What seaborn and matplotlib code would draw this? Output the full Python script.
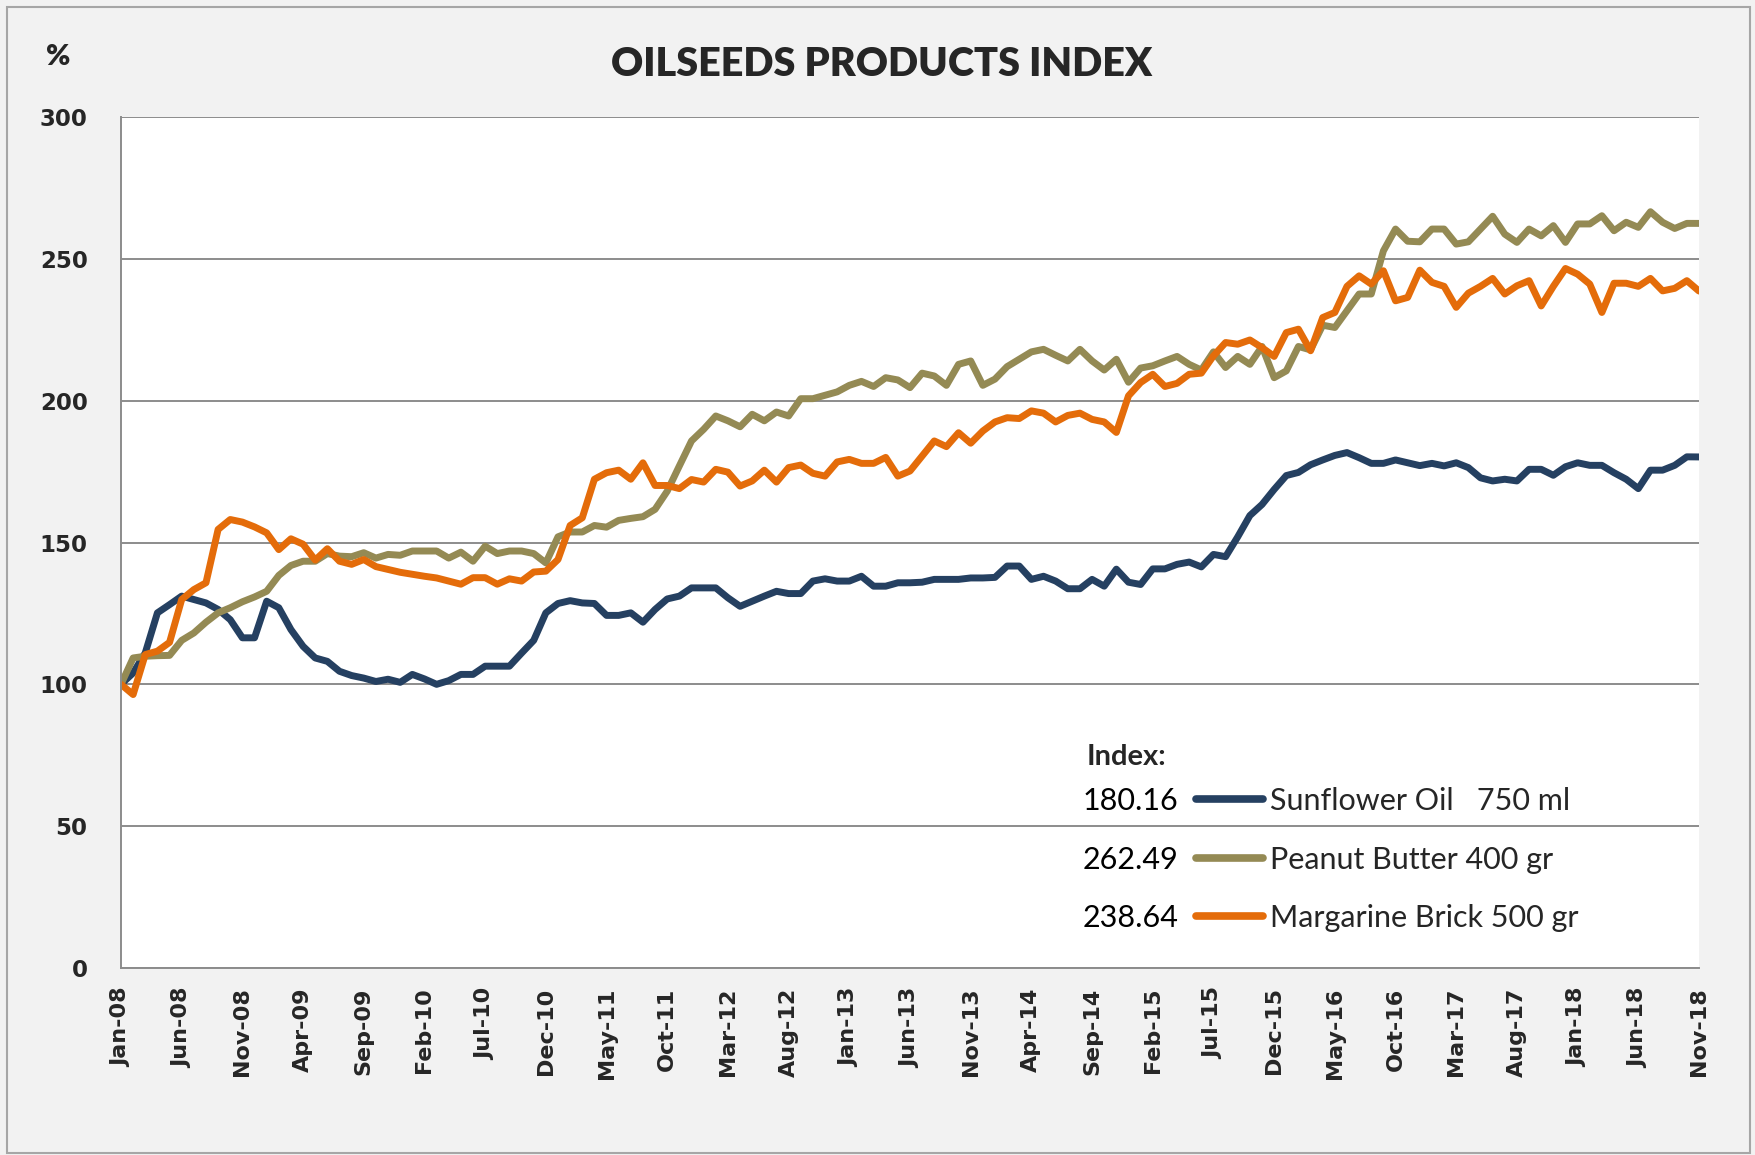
import numpy as np
import pandas as pd
import matplotlib.pyplot as plt
import seaborn as sns
from matplotlib.patches import Rectangle

# ── Data (monthly index, Jan-08 = 100) ─────────────────────────────────────────
SUNFLOWER = [
    100.0, 104.0, 111.1, 125.2, 128.1, 131.1, 129.9, 128.7, 126.4, 122.8,
    116.4, 116.4, 129.3, 127.0, 119.3, 113.4, 109.3, 108.1, 104.6, 103.1,
    102.2, 101.0, 101.8, 100.7, 103.5, 101.9, 100.0, 101.3, 103.5, 103.5,
    106.4, 106.4, 106.4, 111.0, 115.5, 125.2, 128.5, 129.5, 128.7, 128.5,
    124.3, 124.3, 125.2, 121.9, 126.4, 130.1, 131.1, 134.0, 134.0, 134.0,
    130.5, 127.5, 129.3, 131.1, 132.8, 132.0, 132.0, 136.4, 137.2, 136.4,
    136.4, 138.1, 134.6, 134.6, 135.8, 135.8, 136.0, 137.0, 137.0, 137.0,
    137.5, 137.5, 137.7, 141.7, 141.7, 137.0, 138.1, 136.4, 133.7, 133.7,
    137.0, 134.6, 140.6, 136.0, 135.2, 140.7, 140.7, 142.3, 143.1, 141.4,
    145.8, 145.0, 152.0, 159.5, 163.4, 168.7, 173.6, 174.7, 177.4, 179.1,
    180.7, 181.7, 179.9, 177.9, 177.9, 179.1, 178.1, 177.1, 177.9, 177.0,
    178.1, 176.4, 172.8, 171.7, 172.3, 171.7, 175.8, 175.8, 173.7, 176.7,
    178.1, 177.2, 177.2, 174.6, 172.3, 169.0, 175.5, 175.5, 177.2, 180.2,
    180.16,
]
PEANUT = [
    100.0, 109.3, 109.9, 110.1, 110.2, 115.5, 118.1, 121.9, 125.2, 127.0,
    129.1, 130.8, 132.8, 138.4, 141.9, 143.4, 143.4, 146.1, 145.2, 145.0,
    146.4, 144.5, 145.8, 145.5, 147.0, 147.0, 147.0, 144.5, 146.6, 143.4,
    148.7, 146.1, 147.0, 147.0, 146.1, 142.8, 152.0, 153.7, 153.7, 156.0,
    155.4, 157.8, 158.5, 159.1, 161.7, 168.1, 177.0, 185.8, 189.9, 194.6,
    192.9, 190.8, 195.2, 192.9, 196.0, 194.6, 200.7, 200.7, 201.9, 203.1,
    205.4, 206.8, 205.0, 208.1, 207.3, 204.6, 209.7, 208.7, 205.4, 212.8,
    214.0, 205.4, 207.6, 212.0, 214.6, 217.2, 218.1, 216.0, 214.0, 218.1,
    214.0, 210.8, 214.6, 206.5, 211.5, 212.3, 214.0, 215.6, 212.8, 210.8,
    217.2, 211.7, 215.6, 212.8, 219.1, 208.1, 210.5, 219.1, 217.9, 226.6,
    225.8, 231.7, 237.6, 237.6, 252.8, 260.5, 256.2, 256.0, 260.5, 260.5,
    255.2, 256.0, 260.5, 265.0, 258.7, 255.8, 260.5, 258.1, 261.7, 255.8,
    262.3, 262.3, 265.2, 259.9, 262.9, 261.1, 266.6, 262.9, 260.7, 262.5,
    262.49,
]
MARGARINE = [
    100.0, 96.4, 110.5, 111.7, 114.8, 129.9, 133.4, 135.8, 154.6, 158.1,
    157.2, 155.5, 153.4, 147.5, 151.3, 149.4, 143.8, 147.8, 143.4, 142.3,
    144.0, 141.5, 140.5, 139.5, 138.8, 138.1, 137.5, 136.4, 135.3, 137.6,
    137.6, 135.3, 137.2, 136.4, 139.6, 139.9, 144.0, 156.0, 158.7, 172.3,
    174.6, 175.5, 172.3, 178.1, 170.1, 170.1, 169.0, 172.2, 171.3, 175.8,
    174.8, 169.9, 171.7, 175.5, 171.3, 176.4, 177.3, 174.4, 173.4, 178.4,
    179.3, 177.9, 177.9, 180.0, 173.4, 175.2, 180.5, 185.8, 183.8, 188.7,
    185.0, 189.3, 192.5, 194.0, 193.7, 196.4, 195.6, 192.5, 194.8, 195.6,
    193.4, 192.5, 188.8, 201.7, 206.4, 209.3, 205.0, 206.1, 209.3, 209.7,
    215.8, 220.5, 219.9, 221.4, 218.7, 215.6, 224.0, 225.2, 217.6, 229.3,
    231.1, 240.3, 244.0, 241.1, 245.8, 235.2, 236.4, 246.0, 241.7, 240.3,
    232.9, 237.9, 240.3, 243.1, 237.6, 240.5, 242.3, 233.4, 240.3, 246.6,
    244.6, 241.1, 231.1, 241.4, 241.4, 240.3, 243.1, 238.7, 239.6, 242.3,
    238.64,
]

SERIES_NAMES = ["Sunflower Oil   750 ml", "Peanut Butter 400 gr", "Margarine Brick 500 gr"]
SERIES_COLORS = ["#254061", "#948a54", "#e46c0a"]

TICK_LABELS = [
    "Jan-08", "Jun-08", "Nov-08", "Apr-09", "Sep-09", "Feb-10", "Jul-10",
    "Dec-10", "May-11", "Oct-11", "Mar-12", "Aug-12", "Jan-13", "Jun-13",
    "Nov-13", "Apr-14", "Sep-14", "Feb-15", "Jul-15", "Dec-15", "May-16",
    "Oct-16", "Mar-17", "Aug-17", "Jan-18", "Jun-18", "Nov-18",
]
Y_TICKS = [0, 50, 100, 150, 200, 250, 300]

W, H = 1756, 1155
GRID = "#8c8c8c"

# ── Long-form frame ────────────────────────────────────────────────────────────
months = np.arange(len(SUNFLOWER))
df = pd.concat(
    [
        pd.DataFrame({"month": months, "value": vals, "series": name})
        for name, vals in zip(SERIES_NAMES, [SUNFLOWER, PEANUT, MARGARINE])
    ],
    ignore_index=True,
)

sns.set_theme(style="white")
plt.rcParams["font.family"] = ["DejaVu Sans"]

fig = plt.figure(figsize=(W / 100, H / 100), dpi=100, facecolor="#f2f2f2")
ax = fig.add_axes([121 / W, 1 - 968 / H, (1699 - 121) / W, (968 - 117) / H])
ax.set_facecolor("white")

sns.lineplot(
    data=df, x="month", y="value", hue="series",
    hue_order=SERIES_NAMES, palette=dict(zip(SERIES_NAMES, SERIES_COLORS)),
    linewidth=5, legend=False, ax=ax,
)
for ln in ax.get_lines():
    ln.set_solid_joinstyle("round")
    ln.set_solid_capstyle("round")

# ── Axes styling ───────────────────────────────────────────────────────────────
ax.set_xlim(0, len(SUNFLOWER) - 1)
ax.set_ylim(0, 300)
ax.set_yticks(Y_TICKS)
ax.set_yticklabels([str(v) for v in Y_TICKS], fontweight="bold", fontsize=16.5)
ax.set_xticks(np.arange(0, len(SUNFLOWER), 5))
ax.set_xticklabels(TICK_LABELS, rotation=90, fontweight="bold", fontsize=16)
ax.tick_params(axis="y", length=0, pad=24)
ax.tick_params(axis="x", length=0, pad=14)
ax.set_xlabel("")
ax.set_ylabel("")
ax.yaxis.grid(True, color=GRID, linewidth=1.4)
ax.xaxis.grid(False)
for side in ["top", "right"]:
    ax.spines[side].set_visible(False)
for side in ["left", "bottom"]:
    ax.spines[side].set_color(GRID)
    ax.spines[side].set_linewidth(1.4)

# ── Texts ──────────────────────────────────────────────────────────────────────
fig.text(882 / W, 1 - 64 / H, "OILSEEDS PRODUCTS INDEX", ha="center", va="center",
         fontsize=28.5, fontweight="heavy", family=["Lato", "DejaVu Sans"])
fig.text(58 / W, 1 - 57 / H, "%", ha="center", va="center",
         fontsize=21, fontweight="heavy", family=["Lato", "DejaVu Sans"])

# ── Legend with index values ───────────────────────────────────────────────────
leg = ax.legend(
    ax.get_lines(), SERIES_NAMES,
    loc="upper left", bbox_to_anchor=(1196 / W, 1 - 787 / H),
    bbox_transform=fig.transFigure, frameon=False,
    prop={"family": "Lato", "size": 22},
    handlelength=2.2, handletextpad=0.22, labelspacing=1.0,
    borderpad=0, borderaxespad=0,
)
for h in leg.get_lines():
    h.set_linewidth(5.5)
    h.set_solid_capstyle("round")

fig.canvas.draw()
inv = fig.transFigure.inverted()
for txt, vals in zip(leg.get_texts(), [SUNFLOWER, PEANUT, MARGARINE]):
    bb = txt.get_window_extent()
    _, yc = inv.transform((0, (bb.y0 + bb.y1) / 2))
    fig.text(1178 / W, yc, f"{vals[-1]:.2f}", ha="right", va="center",
             fontsize=22, family=["Lato", "DejaVu Sans"], color="black")
fig.text(1087 / W, 1 - 757 / H, "Index:", ha="left", va="center",
         fontsize=21, fontweight="bold", family=["Lato", "DejaVu Sans"])

# outer frame of the chart
fig.patches.append(Rectangle((7 / W, 2 / H), (1750 - 7) / W, (1148 - 2) / H,
                             transform=fig.transFigure, fill=False,
                             edgecolor="#a6a6a6", linewidth=1.5))

fig.savefig("out.png", dpi=100, facecolor=fig.get_facecolor())
